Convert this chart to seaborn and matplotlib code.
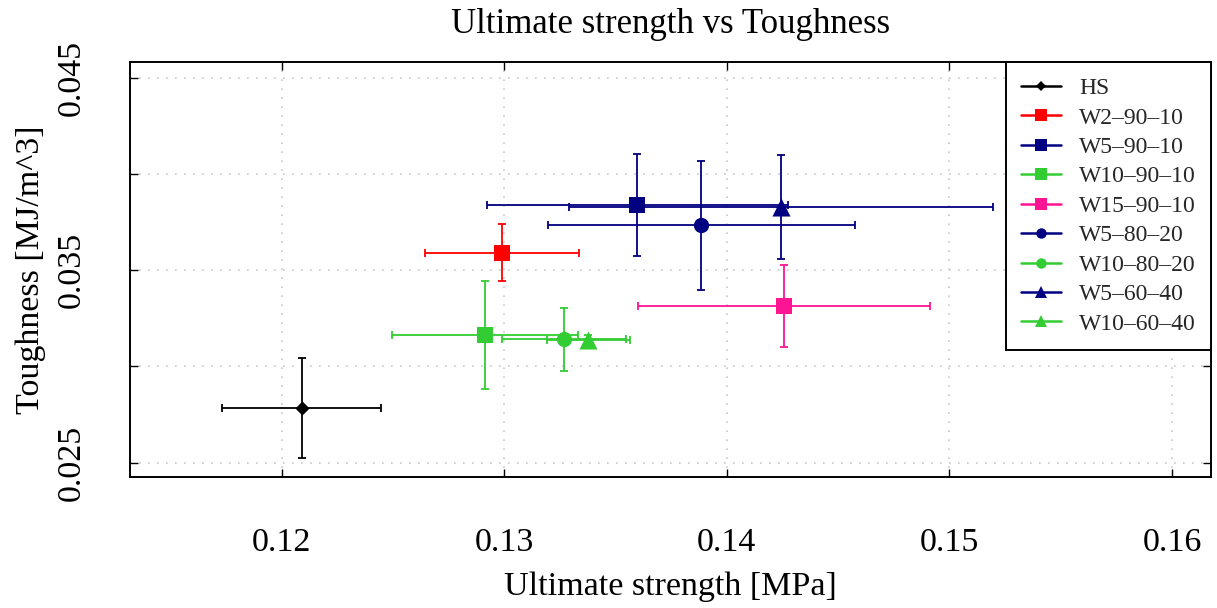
import matplotlib
matplotlib.use("Agg")
import matplotlib.pyplot as plt
import seaborn as sns
import pandas as pd
from matplotlib.lines import Line2D

# ---- data ----
series = ["HS", "W2–90–10", "W5–90–10", "W10–90–10", "W15–90–10",
          "W5–80–20", "W10–80–20", "W5–60–40", "W10–60–40"]
strength = [0.12090, 0.12990, 0.13598, 0.12913, 0.14257,
            0.13885, 0.13267, 0.14243, 0.13377]
strength_err = [0.00357, 0.00345, 0.00676, 0.00418, 0.00655,
                0.00690, 0.00278, 0.00954, 0.00187]
toughness = [0.02783, 0.03591, 0.03840, 0.03163, 0.03315,
             0.03734, 0.03141, 0.03828, 0.03135]
toughness_err = [0.00259, 0.00148, 0.00265, 0.00280, 0.00212,
                 0.00335, 0.00164, 0.00268, 0.00030]

x_ticks = [0.12, 0.13, 0.14, 0.15, 0.16]
x_tick_labels = ["0.12", "0.13", "0.14", "0.15", "0.16"]
y_ticks = [0.025, 0.030, 0.035, 0.040, 0.045]
y_tick_labels = ["0.025", "", "0.035", "", "0.045"]

# ---- styles ----
colors = ["#000000", "#FF0000", "#000080", "#32CD32", "#FF1493",
          "#000080", "#32CD32", "#000080", "#32CD32"]
markers = ["D", "s", "s", "s", "s", "o", "o", "^", "^"]
msizes = [7.2, 11.3, 11.3, 11.3, 11.3, 11.0, 11.0, 13.0, 13.0]
leg_msizes = [5.0, 8.0, 8.0, 8.0, 8.0, 7.5, 7.5, 9.0, 9.0]

df = pd.DataFrame({"series": series, "strength": strength, "toughness": toughness,
                   "strength_err": strength_err, "toughness_err": toughness_err})

sns.set_theme(style="white")
plt.rcParams["font.family"] = ["Liberation Serif", "DejaVu Serif"]

W, H = 1217, 608
fig = plt.figure(figsize=(W / 100, H / 100), dpi=100)
ax = fig.add_axes([130 / W, 1 - 477.3 / H, (1211 - 130) / W, (477.3 - 62.3) / H])

for i, row in df.iterrows():
    ax.errorbar(row["strength"], row["toughness"],
                xerr=row["strength_err"], yerr=row["toughness_err"],
                fmt="none", ecolor=colors[i], elinewidth=1.3,
                capsize=2.6, capthick=1.3, zorder=2)
    sns.scatterplot(x=[row["strength"]], y=[row["toughness"]], ax=ax,
                    marker=markers[i], color=colors[i], s=msizes[i] ** 2,
                    linewidth=0, zorder=3, legend=False)

ax.set_xlim(0.11319, 0.16175)
ax.set_ylim(0.024242, 0.0458)
ax.set_xticks(x_ticks)
ax.set_xticklabels(x_tick_labels)
ax.set_yticks(y_ticks)
ax.set_yticklabels(y_tick_labels)
ax.set_xlabel("")
ax.set_ylabel("")

ax.grid(True, color="#c8c8c8", linestyle=(0, (1, 4.4)), linewidth=1.2, zorder=0)
ax.set_axisbelow(True)
for sp in ax.spines.values():
    sp.set_color("black")
    sp.set_linewidth(1.4)
    sp.set_visible(True)

ax.tick_params(axis="both", direction="in", length=6, width=1.0, colors="black",
               top=True, right=True, bottom=True, left=True, labelsize=24.5)
ax.tick_params(axis="x", pad=36)
ax.tick_params(axis="y", pad=31)
for lab in ax.get_yticklabels():
    lab.set_rotation(90)
    lab.set_va("center")

ax.set_title("Ultimate strength vs Toughness", fontsize=25, pad=21, color="black")
ax.set_xlabel("Ultimate strength [MPa]", fontsize=24.5, color="black")
ax.set_ylabel("Toughness [MJ/m^3]", fontsize=24.5, color="black")
ax.xaxis.set_label_coords(0.5, -0.226)
ax.yaxis.set_label_coords(-0.078, 0.5)

handles = [Line2D([0], [0], color=colors[i], marker=markers[i], markersize=leg_msizes[i],
                  markeredgewidth=0, linewidth=1.8) for i in range(len(series))]
leg = ax.legend(handles, series, loc="upper right", borderaxespad=0, fontsize=17,
                frameon=True, fancybox=False, framealpha=1, facecolor="white",
                edgecolor="black", handlelength=1.7, handletextpad=0.75,
                labelspacing=0.335, borderpad=0.65)
leg.get_frame().set_linewidth(1.4)
leg.set_zorder(10)

fig.savefig("out.png", dpi=100)
